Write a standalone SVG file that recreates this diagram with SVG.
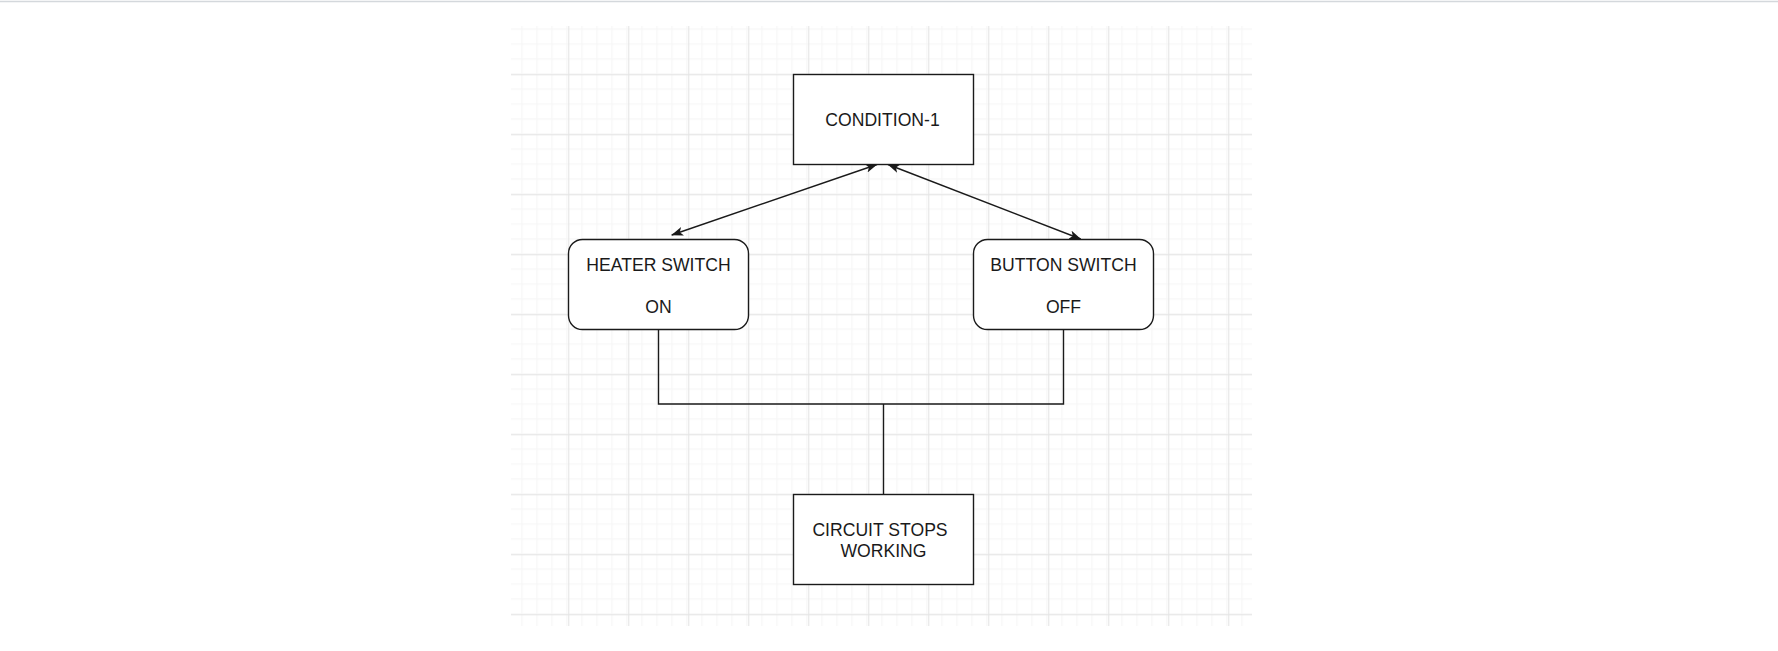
<svg xmlns="http://www.w3.org/2000/svg" width="1778" height="651" viewBox="0 0 1778 651">
  <style>
    .box { fill: #ffffff; stroke: #1a1a1a; stroke-width: 1.4; }
    .lbl { font-family: "Liberation Sans", Arial, sans-serif; font-size: 17.6px; fill: #1a1a1a; text-anchor: middle; }
    .edge { fill: none; stroke: #1a1a1a; stroke-width: 1.4; }
  </style>
  <defs>
    <pattern id="minor" patternUnits="userSpaceOnUse" x="508.3" y="14.3" width="15" height="15">
      <path d="M0,0.5 H15 M0.5,0 V15" fill="none" stroke="#f4f4f4" stroke-width="1"/>
    </pattern>
    <pattern id="major" patternUnits="userSpaceOnUse" x="508.3" y="14.3" width="60" height="60">
      <rect width="60" height="60" fill="url(#minor)"/>
      <path d="M0,0.5 H60 M0.5,0 V60" fill="none" stroke="#e4e4e4" stroke-width="1"/>
    </pattern>
    <marker id="arr" viewBox="0 0 12 9" refX="11.5" refY="4.5" markerWidth="12" markerHeight="9" markerUnits="userSpaceOnUse" orient="auto-start-reverse">
      <path d="M0,0 L12,4.5 L0,9 L3,4.5 z" fill="#1a1a1a"/>
    </marker>
  </defs>
  <rect width="1778" height="651" fill="#ffffff"/>
  <line x1="0" y1="1.5" x2="1778" y2="1.5" stroke="#d4d8dc" stroke-width="1.5"/>
  <rect x="511" y="26" width="741" height="600" fill="url(#major)"/>

  <g id="connectors">
    <line class="edge" x1="877" y1="164.5" x2="671.7" y2="235" marker-start="url(#arr)" marker-end="url(#arr)"/>
    <line class="edge" x1="888" y1="164.5" x2="1080.7" y2="239" marker-start="url(#arr)" marker-end="url(#arr)"/>
    <path class="edge" d="M658.5,329.5 V404 H1063.5 V329.5"/>
    <path class="edge" d="M883.5,404 V494.5"/>
  </g>

  <g id="condition1">
    <rect class="box" x="793.5" y="74.5" width="180" height="90"/>
    <text class="lbl" x="882.5" y="126">CONDITION-1</text>
  </g>
  <g id="heater-switch">
    <rect class="box" x="568.5" y="239.5" width="180" height="90" rx="14" ry="14"/>
    <text class="lbl" x="658.5" y="270.7">HEATER SWITCH</text>
    <text class="lbl" x="658.5" y="312.7">ON</text>
  </g>
  <g id="button-switch">
    <rect class="box" x="973.5" y="239.5" width="180" height="90" rx="14" ry="14"/>
    <text class="lbl" x="1063.5" y="270.7">BUTTON SWITCH</text>
    <text class="lbl" x="1063.5" y="312.7">OFF</text>
  </g>
  <g id="circuit-stops">
    <rect class="box" x="793.5" y="494.5" width="180" height="90"/>
    <text class="lbl" x="880" y="536">CIRCUIT STOPS</text>
    <text class="lbl" x="883.5" y="556.7">WORKING</text>
  </g>
</svg>
